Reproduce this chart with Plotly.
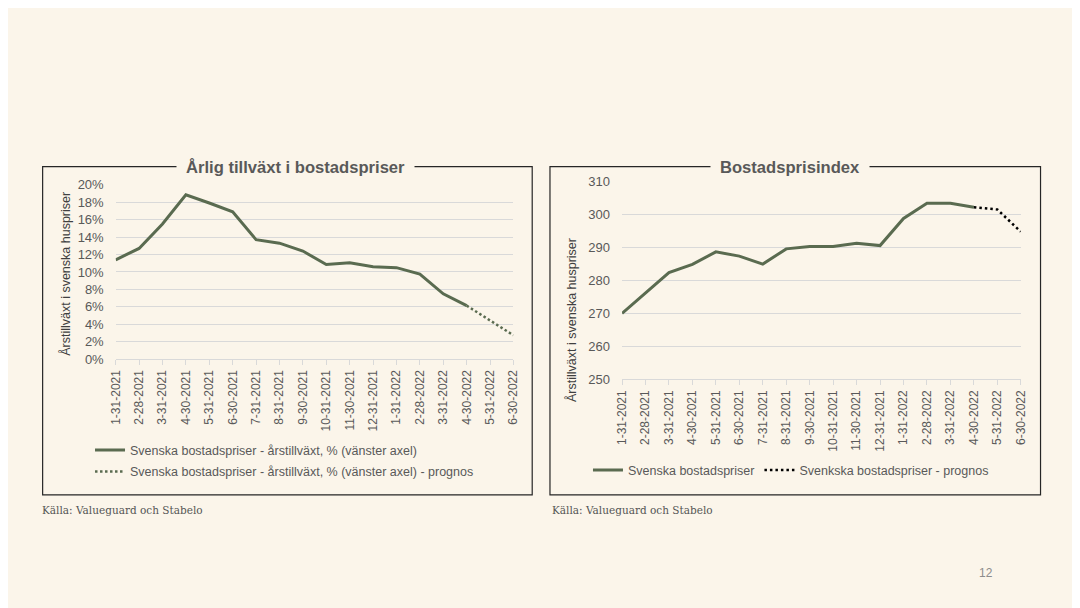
import plotly.graph_objects as go

W, H = 1080, 608
OFF = 8  # the browser's default body margin places the figure 8px right and down
BG = "#FBF5EA"
GREEN = "#5A6B50"
TICK = "#595959"
GRID = "#D9D9D9"
FONT = "Liberation Sans"

dates = ["1-31-2021", "2-28-2021", "3-31-2021", "4-30-2021", "5-31-2021", "6-30-2021",
         "7-31-2021", "8-31-2021", "9-30-2021", "10-31-2021", "11-30-2021", "12-31-2021",
         "1-31-2022", "2-28-2022", "3-31-2022", "4-30-2022", "5-31-2022", "6-30-2022"]

growth = [11.4, 12.7, 15.5, 18.85, 17.9, 16.9, 13.7, 13.3, 12.4, 10.85, 11.05, 10.6,
          10.5, 9.75, 7.5, 6.15, None, None]
growth_forecast = [None] * 15 + [6.15, 4.5, 2.75]

index_vals = [270.0, 276.1, 282.3, 284.8, 288.6, 287.3, 284.9, 289.5, 290.2, 290.2, 291.2,
              290.5, 298.7, 303.3, 303.3, 302.1, None, None]
index_forecast = [None] * 15 + [302.1, 301.4, 294.7]

left_title = "Årlig tillväxt i bostadspriser"
right_title = "Bostadsprisindex"
y_title = "Årstillväxt i svenska huspriser"
source = "Källa: Valueguard och Stabelo"


def fx(p):
    return (p - OFF) / W


def fy(p):
    return 1 - (p - OFF) / H


fig = go.Figure()
fig.add_trace(go.Scatter(x=dates, y=growth, mode="lines", xaxis="x", yaxis="y",
                         line=dict(color=GREEN, width=3), legend="legend",
                         legendgroup="a", name="Svenska bostadspriser - årstillväxt, % (vänster axel)"))
fig.add_trace(go.Scatter(x=dates, y=growth_forecast, mode="lines", xaxis="x", yaxis="y",
                         line=dict(color=GREEN, width=2.5, dash="2.5px,2.5px"), legend="legend",
                         legendgroup="b",
                         name="Svenska bostadspriser - årstillväxt, % (vänster axel) - prognos"))
fig.add_trace(go.Scatter(x=dates, y=index_vals, mode="lines", xaxis="x2", yaxis="y2",
                         line=dict(color=GREEN, width=3), legend="legend2",
                         name="Svenska bostadspriser"))
fig.add_trace(go.Scatter(x=dates, y=index_forecast, mode="lines", xaxis="x2", yaxis="y2",
                         line=dict(color="#000000", width=2.5, dash="2.5px,3px"), legend="legend2",
                         name="Svenkska bostadspriser - prognos"))

xcommon = dict(type="category", range=[0, 17], showgrid=False, showline=True, linecolor=GRID,
               linewidth=1, ticks="outside", ticklen=5, tickcolor=GRID, tickangle=-90,
               tickfont=dict(family=FONT, size=12, color=TICK), zeroline=False, fixedrange=True)
ycommon = dict(showgrid=True, gridcolor=GRID, gridwidth=1, showline=False, zeroline=False,
               ticks="", ticklabelstandoff=11, tickfont=dict(family=FONT, size=13, color=TICK),
               fixedrange=True)

fig.update_layout(
    width=W, height=H,
    margin=dict(l=0, r=0, t=0, b=0),
    paper_bgcolor=BG, plot_bgcolor=BG,
    font=dict(family=FONT, color=TICK),
    xaxis=dict(domain=[fx(110), fx(513)], anchor="y", **xcommon),
    yaxis=dict(domain=[fy(361), fy(182)], anchor="x", range=[0, 20], dtick=2,
               ticksuffix="%", **ycommon),
    xaxis2=dict(domain=[fx(623), fx(1027)], anchor="y2", **xcommon),
    yaxis2=dict(domain=[fy(381.7), fy(178.3)], anchor="x2", range=[250, 310], dtick=10,
                **ycommon),
    legend=dict(x=fx(84), y=fy(439), xanchor="left", yanchor="top", orientation="v",
                bgcolor="rgba(0,0,0,0)", font=dict(family=FONT, size=12.5, color=TICK),
                tracegroupgap=2.3),
    legend2=dict(x=fx(588.5), y=fy(459.5), xanchor="left", yanchor="top", orientation="h",
                 bgcolor="rgba(0,0,0,0)", font=dict(family=FONT, size=12.5, color=TICK)),
    showlegend=True,
)

# chart frames
for x0, x1 in [(36, 532), (550, 1047)]:
    fig.add_shape(type="rect", xref="paper", yref="paper", x0=fx(x0), x1=fx(x1),
                  y0=fy(500), y1=fy(163.5), line=dict(color="#262626", width=1.2),
                  fillcolor="rgba(0,0,0,0)", layer="above")

# titles
for txt, cx in [(left_title, 292), (right_title, 793)]:
    fig.add_annotation(text="<b>" + txt + "</b>", x=fx(cx), y=fy(164), xref="paper", yref="paper",
                       xanchor="center", yanchor="middle", showarrow=False, bgcolor=BG,
                       borderpad=9, font=dict(family=FONT, size=16.6, color=TICK))

# y-axis titles
for cx, cy in [(59, 273), (572, 321)]:
    fig.add_annotation(text=y_title, x=fx(cx), y=fy(cy), xref="paper", yref="paper",
                       xanchor="center", yanchor="middle", textangle=-90, showarrow=False,
                       font=dict(family=FONT, size=12.5, color="#404040"))

# sources
for sx in [33, 550]:
    fig.add_annotation(text=source, x=fx(sx), y=fy(516), xref="paper", yref="paper",
                       xanchor="left", yanchor="middle", showarrow=False,
                       font=dict(family="DejaVu Serif", size=10.5, color="#555555"))

fig.add_annotation(text="12", x=fx(992), y=fy(580), xref="paper", yref="paper",
                   xanchor="center", yanchor="middle", showarrow=False,
                   font=dict(family=FONT, size=12, color="#8C8C8C"))

fig.write_html("out.html", config={"displayModeBar": False})
